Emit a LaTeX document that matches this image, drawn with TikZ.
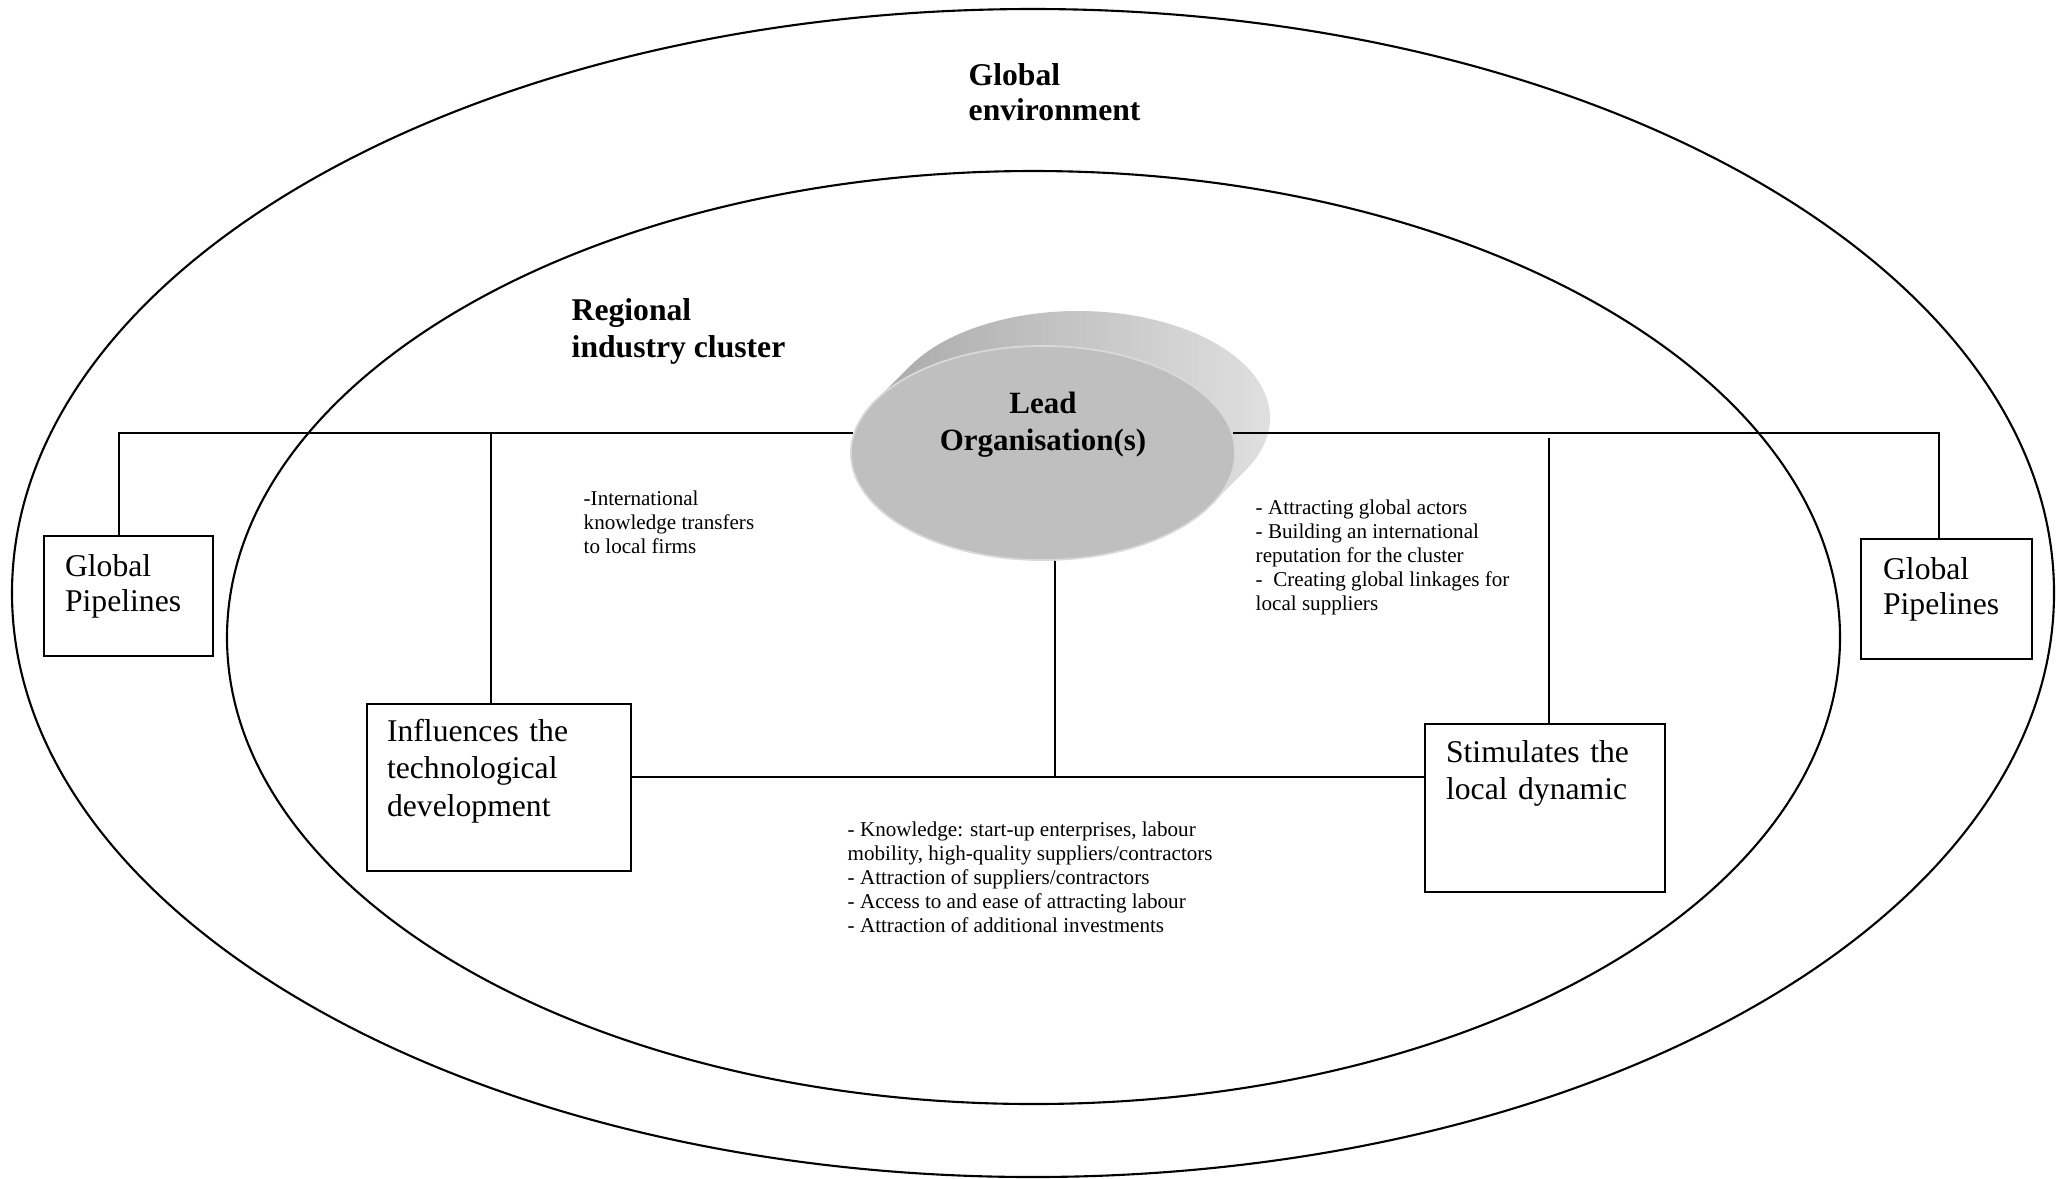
\documentclass[tikz,border=0pt]{standalone}
\usepackage{fontspec}
\setmainfont{Liberation Serif}
\usetikzlibrary{shapes.geometric}

\tikzset{
  clusterbox/.style={draw, line width=0.6pt, anchor=north west, align=left, text height=0.22cm, font=\fontsize{9}{10}\selectfont},
  leadfront/.style={ellipse, fill=gray!50!white, draw=gray!30!white, line width=0.5pt, minimum width=3.84cm, minimum height=2.14cm, inner sep=0pt},
  note/.style={anchor=north west, inner sep=0pt, align=left, font=\fontsize{6}{6.8}\selectfont},
  tier/.style={anchor=north west, inner sep=0pt, align=left, font=\fontsize{9}{10.5}\selectfont\bfseries},
  link/.style={line width=0.5pt}
}

\begin{document}
\begin{tikzpicture}[x=0.01cm, y=0.01cm]
\useasboundingbox (0,0) rectangle (2058,-1178);
% global environment and regional cluster
\draw[line width=0.6pt] (1033,-593) ellipse [x radius=1021, y radius=584];
\draw[line width=0.6pt] (1033.5,-637.5) ellipse [x radius=806.5, y radius=466.5];

% lead organisation (extruded disk)
\coordinate (leadc) at (1043,-453);
\shade[left color=gray!72!white, right color=gray!22!white]
  (leadc) ++(150.9:192 and 107) arc [start angle=150.9, end angle=330.9, x radius=192, y radius=107]
  -- ++(35,35) arc [start angle=330.9, end angle=510.9, x radius=192, y radius=107] -- cycle;
\node[leadfront] (lead) at (leadc) {};
\node[tier, anchor=north, align=center, font=\fontsize{8.8}{10.5}\selectfont\bfseries] (leadlbl) at (1043,-391) {Lead\\Organisation(s)};

% boxes
\node[clusterbox, text width=1.27cm, inner xsep=0.21cm, inner ysep=0.18cm, text depth=0.62cm] (gpl) at (43,-535) {Global\\Pipelines};
\node[clusterbox, text width=1.27cm, inner xsep=0.22cm, inner ysep=0.18cm, text depth=0.62cm] (gpr) at (1860,-538) {Global\\Pipelines};
\node[clusterbox, font=\fontsize{9}{10.7}\selectfont, text width=2.24cm, inner xsep=0.20cm, inner ysep=0.15cm, text depth=1.15cm] (infl) at (366,-703) {Influences the\\technological\\development};
\node[clusterbox, font=\fontsize{9}{10.5}\selectfont, text width=1.98cm, inner xsep=0.21cm, inner ysep=0.16cm, text depth=1.14cm] (stim) at (1424,-723) {Stimulates the\\local dynamic};

% labels
\node[tier, font=\fontsize{9}{10}\selectfont\bfseries] (globenv) at (968,-63) {Global\\environment};
\node[tier] (region) at (571,-298) {Regional\\industry cluster};
\node[note] (transfer) at (583,-490) {-International\\knowledge transfers\\to local firms};
\node[note] (reach) at (1255,-499) {- Attracting global actors\\- Building an international\\reputation for the cluster\\-~ Creating global linkages for\\local suppliers};
\node[note] (spill) at (847,-821) {- Knowledge: start-up enterprises, labour\\mobility, high-quality suppliers/contractors\\- Attraction of suppliers/contractors\\- Access to and ease of attracting labour\\- Attraction of additional investments};

% connectors
\coordinate (hub) at (1055,-777);
\draw[link] (lead.174) -| ([xshift=-0.095cm]gpl.north);
\draw[link] ([xshift=-0.08cm]infl.north) -- ([xshift=-0.08cm]infl.north |- lead.174);
\draw[link] (lead.6) -| ([xshift=-0.075cm]gpr.north);
\draw[link] ([xshift=0.04cm]stim.north) -- ([xshift=0.04cm,yshift=-0.05cm]stim.north |- lead.6);
\draw[link] ([xshift=0.12cm]lead.south) -- (hub);
\draw[link] (infl.east |- hub) -- (stim.west |- hub);
\end{tikzpicture}
\end{document}
